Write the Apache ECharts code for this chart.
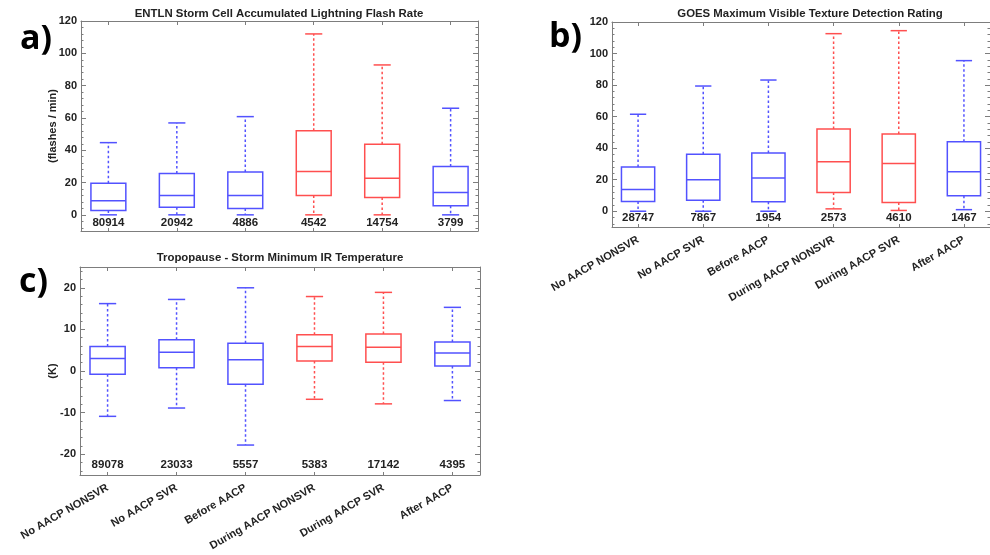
<!DOCTYPE html>
<html>
<head>
<meta charset="utf-8">
<script src="https://cdn.jsdelivr.net/npm/echarts@6/dist/echarts.min.js"></script>
<style>
  html, body { margin: 0; padding: 0; background: #fff; }
  #chart { width: 990px; height: 555px; }
</style>
</head>
<body>
<div id="chart"></div>
<script>
// Storm groups shown along the x axis of every panel
const groups = ['No AACP NONSVR', 'No AACP SVR', 'Before AACP', 'During AACP NONSVR', 'During AACP SVR', 'After AACP'];

// Box statistics per group: [lower whisker, Q1, median, Q3, upper whisker]
const flashRate = [
  [0, 2.7, 8.7, 19.6, 44.7],
  [0, 4.7, 12.0, 25.6, 56.9],
  [0, 3.9, 12.0, 26.6, 60.8],
  [0, 12.0, 26.8, 52.0, 112.0],
  [0, 10.7, 22.7, 43.7, 92.8],
  [0, 5.6, 13.8, 29.9, 66.0]
];
const flashCounts = [80914, 20942, 4886, 4542, 14754, 3799];

const textureRating = [
  [0, 6.2, 13.8, 28.1, 61.5],
  [0, 7.0, 20.0, 36.2, 79.4],
  [0, 6.0, 21.1, 37.0, 83.2],
  [1.5, 11.9, 31.3, 52.1, 112.6],
  [0.5, 5.5, 30.2, 48.9, 114.5],
  [1.0, 9.8, 25.1, 44.0, 95.5]
];
const textureCounts = [28747, 7867, 1954, 2573, 4610, 1467];

const irTemperature = [
  [-10.9, -0.8, 3.0, 5.9, 16.2],
  [-8.9, 0.8, 4.5, 7.5, 17.2],
  [-17.8, -3.2, 2.7, 6.7, 20.0],
  [-6.8, 2.4, 5.9, 8.7, 17.9],
  [-7.9, 2.1, 5.7, 8.9, 18.9],
  [-7.1, 1.2, 4.3, 7.0, 15.3]
];
const irCounts = [89078, 23033, 5557, 5383, 17142, 4395];

// Tick labels
const rateTicks = [0, 20, 40, 60, 80, 100, 120];
const tempTicks = [-20, -10, 0, 10, 20];

// ---------------------------------------------------------------------------
const BLUE = '#5252ff';
const RED = '#ff4f4f';
const groupColor = [BLUE, BLUE, BLUE, RED, RED, BLUE];
const FRAME = '#7d7d7d';
const TEXT = '#222';
const FONT = '"Liberation Sans", Arial, sans-serif';
const BOX_HALF = 0.255;
const CAP_HALF = 0.125;
const X_MIN = 0.6, X_MAX = 6.4;
const positions = groups.map((g, i) => i + 1);

function minorTicks(lo, hi, step, majorStep) {
  const out = [];
  for (let v = Math.ceil(lo / step) * step; v <= hi; v += step) {
    if (Math.abs(v % majorStep) > 1e-9) out.push(v);
  }
  return out;
}

function seriesData(stats, counts) {
  return stats.map((s, i) => [i + 1, s[0], s[1], s[2], s[3], s[4], counts[i]]);
}

function boxRenderer(countLevel) {
  return function (params, api) {
    const x = api.value(0);
    const lo = api.value(1), q1 = api.value(2), md = api.value(3), q3 = api.value(4), hi = api.value(5);
    const color = groupColor[params.dataIndex];
    const cx = api.coord([x, md])[0];
    const y = v => api.coord([x, v])[1];
    const hw = api.size([BOX_HALF, 0])[0];
    const cw = api.size([CAP_HALF, 0])[0];
    const solid = { stroke: color, lineWidth: 1.5, fill: null };
    const dashed = { stroke: color, lineWidth: 1.5, fill: null, lineDash: [2.5, 2.5] };
    return {
      type: 'group',
      children: [
        { type: 'line', shape: { x1: cx, y1: y(q3), x2: cx, y2: y(hi) }, style: dashed },
        { type: 'line', shape: { x1: cx, y1: y(q1), x2: cx, y2: y(lo) }, style: dashed },
        { type: 'line', shape: { x1: cx - cw, y1: y(hi), x2: cx + cw, y2: y(hi) }, style: solid },
        { type: 'line', shape: { x1: cx - cw, y1: y(lo), x2: cx + cw, y2: y(lo) }, style: solid },
        { type: 'rect', shape: { x: cx - hw, y: y(q3), width: 2 * hw, height: y(q1) - y(q3) },
          style: { stroke: color, lineWidth: 1.5, fill: 'transparent' } },
        { type: 'line', shape: { x1: cx - hw, y1: y(md), x2: cx + hw, y2: y(md) }, style: solid },
        { type: 'text', x: cx, y: y(countLevel),
          style: { text: String(api.value(6)), align: 'center', verticalAlign: 'middle',
                   font: 'bold 11.5px ' + FONT, fill: TEXT } }
      ]
    };
  };
}

const labelStyle = { color: TEXT, fontSize: 11, fontWeight: 'bold', fontFamily: FONT };

function xAxes(g, showLabels) {
  return [
    {
      gridIndex: g, type: 'value', position: 'bottom', min: X_MIN, max: X_MAX,
      axisLine: { show: true, onZero: false, lineStyle: { color: FRAME, width: 1 } },
      axisTick: { show: true, inside: true, length: 3, customValues: positions, lineStyle: { color: FRAME } },
      axisLabel: Object.assign({
        show: showLabels, customValues: positions, rotate: 30, margin: 12,
        formatter: v => groups[Math.round(v) - 1] || ''
      }, labelStyle),
      splitLine: { show: false }
    },
    {
      gridIndex: g, type: 'value', position: 'top', min: X_MIN, max: X_MAX,
      axisLine: { show: true, onZero: false, lineStyle: { color: FRAME, width: 1 } },
      axisTick: { show: true, inside: true, length: 4, customValues: positions, lineStyle: { color: FRAME } },
      axisLabel: { show: false },
      splitLine: { show: false }
    }
  ];
}

function yAxes(g, lo, hi, majors, minors, name, nameGap) {
  const base = { gridIndex: g, type: 'value', min: lo, max: hi, splitLine: { show: false } };
  return [
    Object.assign({}, base, {
      position: 'left',
      name: name, nameLocation: 'middle', nameGap: nameGap, nameRotate: 90,
      nameMoveOverlap: false,
      nameTextStyle: labelStyle,
      axisLine: { show: true, onZero: false, lineStyle: { color: FRAME, width: 1 } },
      axisTick: { show: true, inside: true, length: 5, customValues: majors, lineStyle: { color: FRAME } },
      axisLabel: Object.assign({ customValues: majors, margin: 4 }, labelStyle)
    }),
    Object.assign({}, base, {
      position: 'left',
      axisLine: { show: false, onZero: false },
      axisTick: { show: true, inside: true, length: 2.5, customValues: minors, lineStyle: { color: FRAME } },
      axisLabel: { show: false }
    }),
    Object.assign({}, base, {
      position: 'right',
      axisLine: { show: true, onZero: false, lineStyle: { color: FRAME, width: 1 } },
      axisTick: { show: true, inside: true, length: 5, customValues: majors, lineStyle: { color: FRAME } },
      axisLabel: { show: false }
    }),
    Object.assign({}, base, {
      position: 'right',
      axisLine: { show: false, onZero: false },
      axisTick: { show: true, inside: true, length: 2.5, customValues: minors, lineStyle: { color: FRAME } },
      axisLabel: { show: false }
    })
  ];
}

const rateMinor = minorTicks(-10, 120, 4, 20);
const tempMinor = minorTicks(-25, 25, 2, 10);

const titleFont = 'bold 11.4px ' + FONT;
const panelFont = 'bold 34px "Open Sans", sans-serif';

const option = {
  animation: false,
  backgroundColor: '#fff',
  grid: [
    { left: 81, top: 21, width: 397, height: 210 },
    { left: 612, top: 22, width: 396, height: 205 },
    { left: 80, top: 267, width: 400, height: 208 }
  ],
  xAxis: [].concat(xAxes(0, false), xAxes(1, true), xAxes(2, true)),
  yAxis: [].concat(
    yAxes(0, -10, 120, rateTicks, rateMinor, '(flashes / min)', 23),
    yAxes(1, -10, 120, rateTicks, rateMinor, '', 20),
    yAxes(2, -25, 25, tempTicks, tempMinor, '(K)', 22)
  ),
  series: [
    { type: 'custom', xAxisIndex: 0, yAxisIndex: 0, renderItem: boxRenderer(-5),
      encode: { x: 0, y: [1, 2, 3, 4, 5] }, data: seriesData(flashRate, flashCounts), clip: false },
    { type: 'custom', xAxisIndex: 2, yAxisIndex: 4, renderItem: boxRenderer(-4.5),
      encode: { x: 0, y: [1, 2, 3, 4, 5] }, data: seriesData(textureRating, textureCounts), clip: false },
    { type: 'custom', xAxisIndex: 4, yAxisIndex: 8, renderItem: boxRenderer(-22.6),
      encode: { x: 0, y: [1, 2, 3, 4, 5] }, data: seriesData(irTemperature, irCounts), clip: false }
  ],
  graphic: [
    { type: 'text', x: 279, y: 14, style: { text: 'ENTLN Storm Cell Accumulated Lightning Flash Rate',
      align: 'center', verticalAlign: 'middle', font: titleFont, fill: TEXT } },
    { type: 'text', x: 810, y: 14, style: { text: 'GOES Maximum Visible Texture Detection Rating',
      align: 'center', verticalAlign: 'middle', font: titleFont, fill: TEXT } },
    { type: 'text', x: 280, y: 258, style: { text: 'Tropopause - Storm Minimum IR Temperature',
      align: 'center', verticalAlign: 'middle', font: titleFont, fill: TEXT } },
    { type: 'text', x: 20, y: 39, style: { text: 'a)', align: 'left', verticalAlign: 'middle',
      font: panelFont, fill: '#000' } },
    { type: 'text', x: 549, y: 37, style: { text: 'b)', align: 'left', verticalAlign: 'middle',
      font: panelFont, fill: '#000' } },
    { type: 'text', x: 19, y: 282, style: { text: 'c)', align: 'left', verticalAlign: 'middle',
      font: panelFont, fill: '#000' } }
  ]
};

const chart = echarts.init(document.getElementById('chart'), null, { renderer: 'canvas' });
chart.setOption(option);
</script>
</body>
</html>
